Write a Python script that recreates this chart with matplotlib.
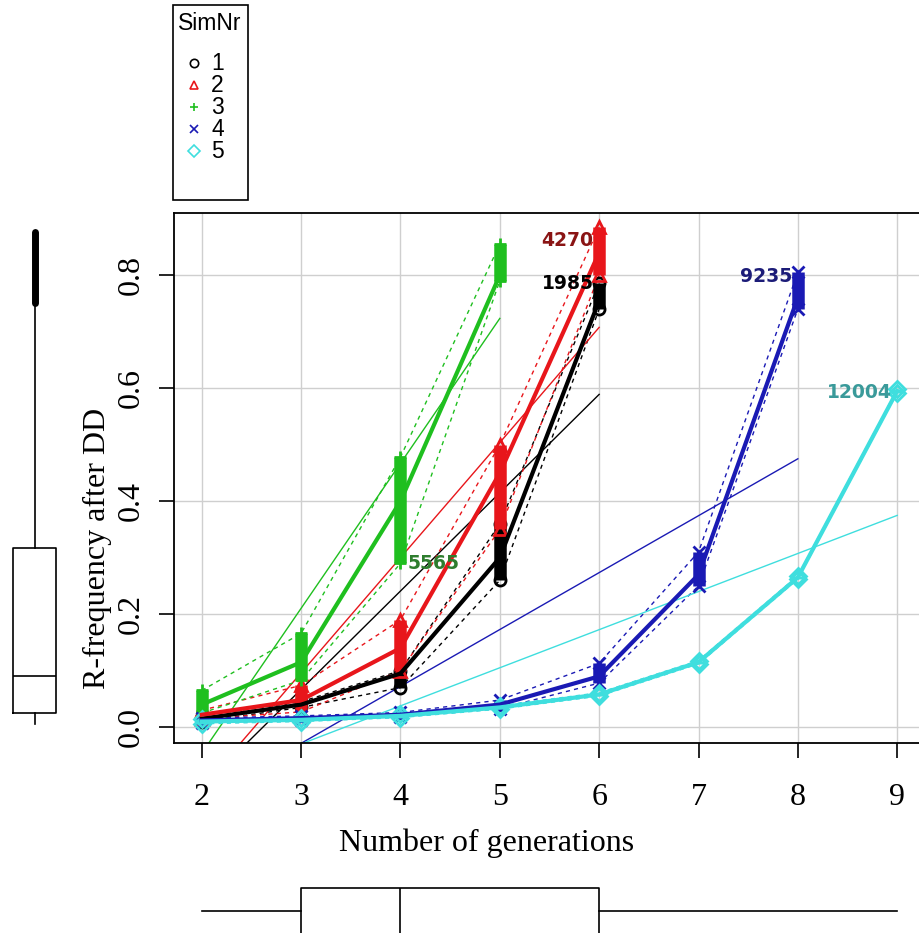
import numpy as np
import matplotlib.pyplot as plt
from matplotlib.lines import Line2D
from matplotlib.patches import Rectangle

# R-frequency after DD per generation, one block per SimNr
# mid = smoother value, lo/hi = lowest and highest point of the replicate column
gens1 = [2, 3, 4, 5, 6]
mid1 = [0.015, 0.040, 0.095, 0.300, 0.755]
lo1 = [0.010, 0.035, 0.070, 0.260, 0.740]
hi1 = [0.020, 0.045, 0.100, 0.360, 0.786]

gens2 = [2, 3, 4, 5, 6]
mid2 = [0.022, 0.048, 0.140, 0.450, 0.840]
lo2 = [0.015, 0.027, 0.100, 0.350, 0.800]
hi2 = [0.030, 0.074, 0.190, 0.500, 0.885]

gens3 = [2, 3, 4, 5]
mid3 = [0.040, 0.115, 0.400, 0.800]
lo3 = [0.025, 0.083, 0.290, 0.790]
hi3 = [0.065, 0.166, 0.478, 0.855]

gens4 = [2, 3, 4, 5, 6, 7, 8]
mid4 = [0.012, 0.016, 0.022, 0.040, 0.090, 0.270, 0.760]
lo4 = [0.008, 0.012, 0.018, 0.033, 0.078, 0.250, 0.740]
hi4 = [0.016, 0.020, 0.026, 0.048, 0.113, 0.310, 0.805]

gens5 = [2, 3, 4, 5, 6, 7, 8, 9]
mid5 = [0.010, 0.013, 0.020, 0.035, 0.058, 0.115, 0.265, 0.595]
lo5 = [0.006, 0.010, 0.017, 0.032, 0.055, 0.112, 0.262, 0.592]
hi5 = [0.014, 0.016, 0.023, 0.038, 0.061, 0.118, 0.268, 0.598]

sim_names = ["1", "2", "3", "4", "5"]
sim_colors = ["#000000", "#e8161b", "#1fbf1f", "#1a1ab4", "#3fdede"]
sim_markers = ["o", "^", "+", "x", "D"]

# identified points
lab_text = ["4270", "1985", "5565", "9235", "12004"]
lab_x = [6, 6, 4, 8, 9]
lab_y = [0.862, 0.786, 0.290, 0.798, 0.593]
lab_side = ["left", "left", "right", "left", "left"]
lab_colors = ["#8a1414", "#000000", "#2e7d2e", "#1c1c78", "#3a9a9a"]

# marginal boxplots
y_box = dict(whislo=0.005, q1=0.025, med=0.09, q3=0.317, whishi=0.75, fliers=[])
y_out = [0.75, 0.876]   # range covered by the outlier points
x_box = dict(whislo=2, q1=3, med=4, q3=6, whishi=9, fliers=[])

sims = [(gens1, mid1, lo1, hi1), (gens2, mid2, lo2, hi2), (gens3, mid3, lo3, hi3),
        (gens4, mid4, lo4, hi4), (gens5, mid5, lo5, hi5)]

W, H = 919, 933
fx = lambda px: px / W
fy = lambda py: 1 - py / H

serif = "Liberation Serif"
sans = "Liberation Sans"

fig = plt.figure(figsize=(W / 100, H / 100), dpi=100)
ax = fig.add_axes([fx(174), fy(743), 751 / W, 530 / H])
xlim = (1.72, 9.28)
ylim = (-0.028, 0.91)

for (g, m, lo, hi), c, mk in zip(sims, sim_colors, sim_markers):
    coef = np.polyfit(g, m, 1)
    xs = np.array([g[0], g[-1]])
    ax.plot(xs, np.polyval(coef, xs), color=c, lw=1, zorder=2)
    ax.plot(g, lo, color=c, lw=1, ls=(0, (3, 3)), zorder=2)
    ax.plot(g, hi, color=c, lw=1, ls=(0, (3, 3)), zorder=2)
    ax.vlines(g, lo, hi, color=c, lw=9, zorder=3)
    for v in (lo, hi):
        ax.plot(g, v, ls="none", marker=mk, ms=8, mfc="none", mec=c, mew=2, zorder=3)
    ax.plot(g, m, color=c, lw=3, zorder=4)

for t, x, y, s, c in zip(lab_text, lab_x, lab_y, lab_side, lab_colors):
    off = -4 if s == "left" else 5
    ax.annotate(t, (x, y), xytext=(off, 0), textcoords="offset points",
                ha="right" if s == "left" else "left", va="center",
                fontsize=13.5, fontweight="bold", color=c, family="DejaVu Sans", zorder=5)

ax.set_xlim(xlim)
ax.set_ylim(ylim)
ax.set_xticks(range(2, 10))
ax.set_xticklabels([str(i) for i in range(2, 10)], family=serif, fontsize=23)
yt = [0.0, 0.2, 0.4, 0.6, 0.8]
ax.set_yticks(yt)
ax.set_yticklabels(["%.1f" % v for v in yt], family=serif, fontsize=23, rotation=90, va="center")
ax.tick_params(axis="x", length=11, width=1.2, pad=18)
ax.tick_params(axis="y", length=11, width=1.2, pad=9)
ax.grid(color="#cfcfcf", lw=1)
ax.set_axisbelow(True)
for sp in ax.spines.values():
    sp.set_linewidth(1.3)
ax.set_xlabel("Number of generations", family=serif, fontsize=23)
ax.xaxis.set_label_coords((487 - 174) / 751, -(829 - 743) / 530)
ax.set_ylabel("R-frequency after DD", family=serif, fontsize=23)
ax.yaxis.set_label_coords(-(174 - 112) / 751, (743 - 548) / 530)

# left marginal boxplot
bax = fig.add_axes([0, fy(743), 70 / W, 530 / H])
bax.bxp([y_box], positions=[34.5], widths=[43], showcaps=False,
        boxprops=dict(color="black", lw=1.2), whiskerprops=dict(color="black", lw=1.2),
        medianprops=dict(color="black", lw=1.2))
bax.vlines(34.5, y_out[0], y_out[1], color="black", lw=5, capstyle="round")
bax.set_xlim(0, 70)
bax.set_ylim(ylim)
bax.axis("off")

# bottom marginal boxplot
cax = fig.add_axes([fx(174), 0, 751 / W, 83 / H])
cax.bxp([x_box], positions=[22], widths=[46], showcaps=False, orientation="horizontal",
        boxprops=dict(color="black", lw=1.2), whiskerprops=dict(color="black", lw=1.2),
        medianprops=dict(color="black", lw=1.2))
cax.set_xlim(xlim)
cax.set_ylim(0, 83)
cax.axis("off")

# legend
fig.add_artist(Rectangle((fx(173), fy(200)), 75 / W, 195 / H, fill=False,
                         ec="black", lw=1.2, transform=fig.transFigure))
fig.text(fx(210), fy(24), "SimNr", ha="center", va="center", family=sans, fontsize=16.5)
for i, (n, c, mk) in enumerate(zip(sim_names, sim_colors, sim_markers)):
    yy = 63 + 22 * i
    fig.add_artist(Line2D([fx(194)], [fy(yy)], marker=mk, ls="none", ms=6, mfc="none",
                          mec=c, mew=1.2, transform=fig.transFigure))
    fig.text(fx(211), fy(yy), n, ha="left", va="center", family=sans, fontsize=16.5)

fig.savefig("out.png", dpi=100)
